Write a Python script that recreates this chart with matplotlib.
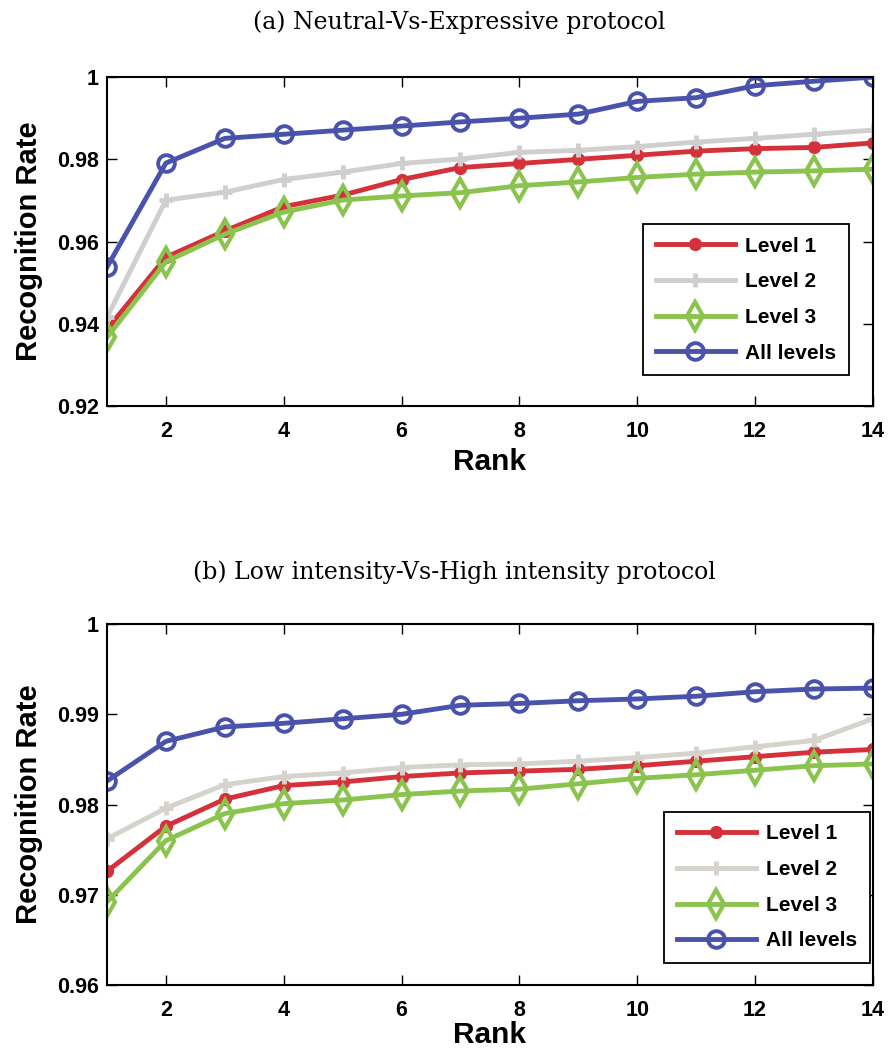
import matplotlib
matplotlib.use("Agg")
import matplotlib.pyplot as plt

rank = list(range(1, 15))

# (a) Neutral-Vs-Expressive protocol
a_level1 = [0.9387, 0.9562, 0.9626, 0.9685, 0.9713, 0.9751, 0.9780,
            0.9790, 0.9800, 0.9810, 0.9820, 0.9826, 0.9829, 0.9840]
a_level2 = [0.9416, 0.9701, 0.9720, 0.9751, 0.9769, 0.9790, 0.9801,
            0.9817, 0.9822, 0.9831, 0.9842, 0.9851, 0.9861, 0.9871]
a_level3 = [0.9367, 0.9551, 0.9618, 0.9672, 0.9701, 0.9711, 0.9719,
            0.9736, 0.9745, 0.9756, 0.9764, 0.9769, 0.9772, 0.9776]
a_all = [0.9538, 0.9791, 0.9851, 0.9861, 0.9871, 0.9881, 0.9891,
         0.9900, 0.9910, 0.9941, 0.9950, 0.9979, 0.9990, 1.0000]

# (b) Low intensity-Vs-High intensity protocol
b_level1 = [0.9726, 0.9776, 0.9806, 0.9821, 0.9825, 0.9831, 0.9835,
            0.9837, 0.9839, 0.9843, 0.9848, 0.9853, 0.9858, 0.9861]
b_level2 = [0.9762, 0.9796, 0.9822, 0.9831, 0.9835, 0.9841, 0.9844,
            0.9845, 0.9848, 0.9852, 0.9857, 0.9864, 0.9871, 0.9895]
b_level3 = [0.9692, 0.9760, 0.9790, 0.9801, 0.9805, 0.9811, 0.9815,
            0.9817, 0.9823, 0.9829, 0.9833, 0.9838, 0.9843, 0.9845]
b_all = [0.9826, 0.9870, 0.9886, 0.9890, 0.9895, 0.9900, 0.9910,
         0.9912, 0.9915, 0.9917, 0.9920, 0.9925, 0.9928, 0.9929]

labels = ["Level 1", "Level 2", "Level 3", "All levels"]

RED = "#d4313a"
GREEN = "#8bc34f"
BLUE = "#4953ab"

plt.rcParams['font.family'] = ['Liberation Sans', 'DejaVu Sans']
plt.rcParams['font.weight'] = 'bold'

fig = plt.figure(figsize=(8.88, 10.52), dpi=100)
ax1 = fig.add_axes([0.1205, 0.614, 0.8625, 0.3127])
ax2 = fig.add_axes([0.1205, 0.0637, 0.8625, 0.3431])


def draw(ax, series, gray, ylim, yticks, ylabels, legend_anchor, xpad):
    l1, l2, l3, la = series
    ax.plot(rank, l1, color=RED, lw=3.5, marker='o', ms=8.5, label=labels[0])
    ax.plot(rank, l2, color=gray, lw=3.5, marker='+', ms=10, mew=3.5, label=labels[1])
    ax.plot(rank, l3, color=GREEN, lw=3.5, marker='d', ms=14, mew=3,
            mfc='none', mec=GREEN, label=labels[2])
    ax.plot(rank, la, color=BLUE, lw=3.5, marker='o', ms=12, mew=2.8,
            mfc='none', mec=BLUE, label=labels[3])
    ax.set_xlim(1, 14)
    ax.set_ylim(*ylim)
    ax.set_xticks(range(2, 15, 2))
    ax.set_yticks(yticks)
    ax.set_yticklabels(ylabels)
    ax.tick_params(direction='in', length=7, width=1, labelsize=15.5,
                   top=True, right=True)
    ax.tick_params(axis='x', pad=11)
    ax.tick_params(axis='y', pad=6)
    for lab in ax.get_xticklabels() + ax.get_yticklabels():
        lab.set_fontweight('bold')
    for sp in ax.spines.values():
        sp.set_linewidth(1.5)
    ax.set_xlabel("Rank", fontsize=21.5, fontweight='bold', labelpad=xpad)
    ax.set_ylabel("Recognition Rate", fontsize=21, fontweight='bold', labelpad=10)
    leg = ax.legend(loc='lower right', bbox_to_anchor=legend_anchor,
                    borderaxespad=0, fontsize=15, frameon=True, fancybox=False,
                    edgecolor='black', handlelength=3.8, borderpad=0.6,
                    labelspacing=0.8, handletextpad=0.5)
    leg.get_frame().set_linewidth(1.3)
    leg.get_frame().set_alpha(1)
    for t in leg.get_texts():
        t.set_fontweight('bold')


draw(ax1, (a_level1, a_level2, a_level3, a_all), "#cfcfcf",
     (0.92, 1.0), [0.92, 0.94, 0.96, 0.98, 1.0],
     ["0.92", "0.94", "0.96", "0.98", "1"], (0.9687, 0.094), 4)
draw(ax2, (b_level1, b_level2, b_level3, b_all), "#d6d2cc",
     (0.96, 1.0), [0.96, 0.97, 0.98, 0.99, 1.0],
     ["0.96", "0.97", "0.98", "0.99", "1"], (0.996, 0.061), 0)

fig.text(0.517, 0.979, "(a) Neutral-Vs-Expressive protocol", ha='center',
         va='center', fontsize=17, fontweight='normal',
         family=['DejaVu Serif'])
fig.text(0.512, 0.456, "(b) Low intensity-Vs-High intensity protocol", ha='center',
         va='center', fontsize=17, fontweight='normal',
         family=['DejaVu Serif'])

fig.savefig("out.png", dpi=100)
